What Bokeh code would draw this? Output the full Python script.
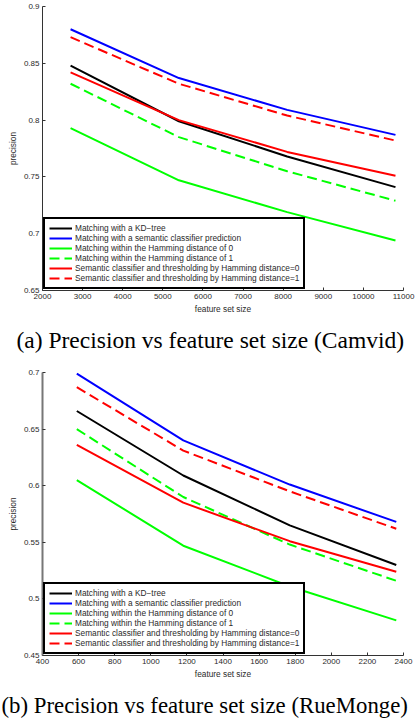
from bokeh.plotting import figure
from bokeh.models import Legend, LegendItem, FixedTicker, CustomJSTickFormatter, Range1d, Title
from bokeh.layouts import column
from bokeh.embed import file_html
from bokeh.resources import INLINE

# ---------------- data ----------------
series_labels = [
    "Matching with a KD\u2212tree",
    "Matching with a semantic classifier prediction",
    "Matching within the Hamming distance of 0",
    "Matching within the Hamming distance of 1",
    "Semantic classifier and thresholding by Hamming distance=0",
    "Semantic classifier and thresholding by Hamming distance=1",
]

# (a) Camvid
camvid_size = [2700, 5400, 8100, 10800]
camvid_kdtree = [0.848, 0.799, 0.768, 0.741]
camvid_semantic = [0.880, 0.837, 0.809, 0.787]
camvid_hamming0 = [0.793, 0.747, 0.719, 0.694]
camvid_hamming1 = [0.832, 0.785, 0.755, 0.729]
camvid_sem_ham0 = [0.842, 0.800, 0.772, 0.751]
camvid_sem_ham1 = [0.873, 0.832, 0.804, 0.782]
camvid_xticks = [2000, 3000, 4000, 5000, 6000, 7000, 8000, 9000, 10000, 11000]
camvid_yticks = [0.65, 0.7, 0.75, 0.8, 0.85, 0.9]

# (b) RueMonge
rue_size = [590, 1180, 1770, 2360]
rue_kdtree = [0.666, 0.609, 0.565, 0.530]
rue_semantic = [0.699, 0.640, 0.601, 0.568]
rue_hamming0 = [0.605, 0.547, 0.511, 0.481]
rue_hamming1 = [0.650, 0.590, 0.548, 0.516]
rue_sem_ham0 = [0.636, 0.585, 0.551, 0.524]
rue_sem_ham1 = [0.687, 0.631, 0.595, 0.562]
rue_xticks = [400, 600, 800, 1000, 1200, 1400, 1600, 1800, 2000, 2200, 2400]
rue_yticks = [0.45, 0.5, 0.55, 0.6, 0.65, 0.7]

styles = [
    ("black", "solid"),
    ("#0000ff", "solid"),
    ("#00ff00", "solid"),
    ("#00ff00", "10 5"),
    ("#ff0000", "solid"),
    ("#ff0000", "10 5"),
]

SANS = "Liberation Sans"
SERIF = "Liberation Serif"
TXT = "#2a2a2a"


def make_plot(x, ys, xr, yr, xticks, yticks, height, b_top, b_bottom, b_right,
              caption, cap_offset, cap_size, cap_standoff, yaxis_color, yaxis_width):
    p = figure(width=417, height=height, x_range=Range1d(*xr), y_range=Range1d(*yr),
               output_backend="svg", toolbar_location=None, title=None,
               min_border_left=42, min_border_right=b_right,
               min_border_top=b_top, min_border_bottom=b_bottom)
    p.outline_line_color = None
    p.grid.visible = False
    p.background_fill_color = "white"
    p.border_fill_color = "white"

    for ax in (p.xaxis[0], p.yaxis[0]):
        ax.major_tick_in = 3
        ax.major_tick_out = 0
        ax.minor_tick_in = 0
        ax.minor_tick_out = 0
        ax.major_label_text_font = SANS
        ax.major_label_text_font_size = "8px"
        ax.major_label_text_color = TXT
        ax.axis_label_text_font = SANS
        ax.axis_label_text_font_size = "8.3px"
        ax.axis_label_text_font_style = "normal"
        ax.axis_label_text_color = TXT
        ax.major_tick_line_color = "#333333"

    p.xaxis.ticker = FixedTicker(ticks=xticks)
    p.yaxis.ticker = FixedTicker(ticks=yticks)
    p.yaxis.formatter = CustomJSTickFormatter(code="return String(parseFloat(tick.toFixed(2)));")
    p.xaxis.axis_label = "feature set size"
    p.yaxis.axis_label = "precision"
    p.xaxis.major_label_standoff = 3
    p.xaxis.axis_label_standoff = 2
    p.yaxis.major_label_standoff = 3
    p.yaxis.axis_label_standoff = 3
    p.xaxis.axis_line_color = "#333333"
    p.xaxis.axis_line_width = 1
    p.yaxis.axis_line_color = yaxis_color
    p.yaxis.axis_line_width = yaxis_width

    items = []
    for yv, (col, dash), lab in zip(ys, styles, series_labels):
        r = p.line(x, yv, line_color=col, line_width=2, line_dash=dash)
        items.append(LegendItem(label=lab, renderers=[r]))

    legend = Legend(items=items, location="bottom_left", margin=1, padding=4,
                    spacing=0, label_height=10, glyph_height=10, glyph_width=23,
                    label_standoff=3, border_line_color="black", border_line_width=2,
                    border_line_alpha=1.0,
                    label_text_font=SANS, label_text_font_size="8.3px",
                    label_text_color=TXT, background_fill_color="white",
                    background_fill_alpha=1.0)
    p.add_layout(legend)

    p.add_layout(Title(text=caption, text_font=SERIF, text_font_size=cap_size,
                       text_font_style="normal", text_color="black", align="left",
                       offset=cap_offset, standoff=cap_standoff), "below")
    return p


p1 = make_plot(camvid_size,
               [camvid_kdtree, camvid_semantic, camvid_hamming0, camvid_hamming1,
                camvid_sem_ham0, camvid_sem_ham1],
               (2000, 11000), (0.65, 0.9), camvid_xticks, camvid_yticks,
               365, 6, 75, 14, "(a) Precision vs feature set size (Camvid)", -26,
               "23.5px", 17, "#333333", 1)
p2 = make_plot(rue_size,
               [rue_kdtree, rue_semantic, rue_hamming0, rue_hamming1,
                rue_sem_ham0, rue_sem_ham1],
               (400, 2400), (0.45, 0.7), rue_xticks, rue_yticks,
               362, 7, 70, 12, "(b) Precision vs feature set size (RueMonge)", -41,
               "22.8px", 19, "#777777", 2)

layout = column(p1, p2, spacing=0)
open("out.html", "w").write(file_html(layout, INLINE))
